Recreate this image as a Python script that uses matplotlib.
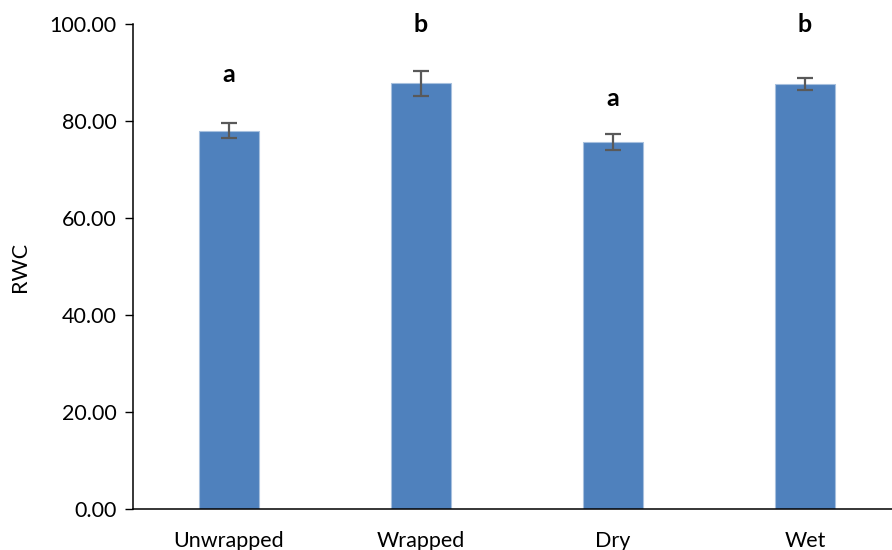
import numpy as np
import matplotlib.pyplot as plt

plt.rcParams['font.family'] = ['Lato', 'DejaVu Sans']

# data
groups = ['Unwrapped', 'Wrapped', 'Dry', 'Wet']
rwc = [78.0, 87.8, 75.6, 87.6]
rwc_err = [1.6, 2.6, 1.65, 1.3]
letters = ['a', 'b', 'a', 'b']
letter_y = [89.5, 99.8, 84.7, 99.8]

fig = plt.figure(figsize=(8.92, 5.5), dpi=100)
# axes runs slightly past the right edge of the figure, as in the original
ax = fig.add_axes([133 / 892, 1 - 509 / 550, 768 / 892, 485 / 550])

x = np.arange(len(groups))
ax.bar(x, rwc, width=0.31, color='#4F81BD', edgecolor='#A7C0DE', linewidth=0.8, zorder=2)
ax.errorbar(x, rwc, yerr=rwc_err, fmt='none', ecolor='#595959',
            elinewidth=1.6, capsize=6, capthick=1.6, zorder=3)

for xi, lab, ly in zip(x, letters, letter_y):
    ax.text(xi, ly, lab, ha='center', va='center', fontsize=18, fontweight='bold')

ax.set_xlim(-0.5, len(groups) - 0.5)
ax.set_ylim(0, 100)
ax.set_yticks(np.arange(0, 101, 20))
ax.set_yticklabels(['%.2f' % v for v in np.arange(0, 101, 20)])
ax.set_xticks(x)
ax.set_xticklabels(groups)

ax.tick_params(axis='y', length=6, width=1, pad=6, labelsize=15.5)
ax.tick_params(axis='x', length=0, pad=16, labelsize=15.5)

for s in ['top', 'right']:
    ax.spines[s].set_visible(False)
for s in ['left', 'bottom']:
    ax.spines[s].set_linewidth(1.1)

ax.set_ylabel('RWC', fontsize=15.5, labelpad=14)

fig.savefig('out.png', dpi=100)
